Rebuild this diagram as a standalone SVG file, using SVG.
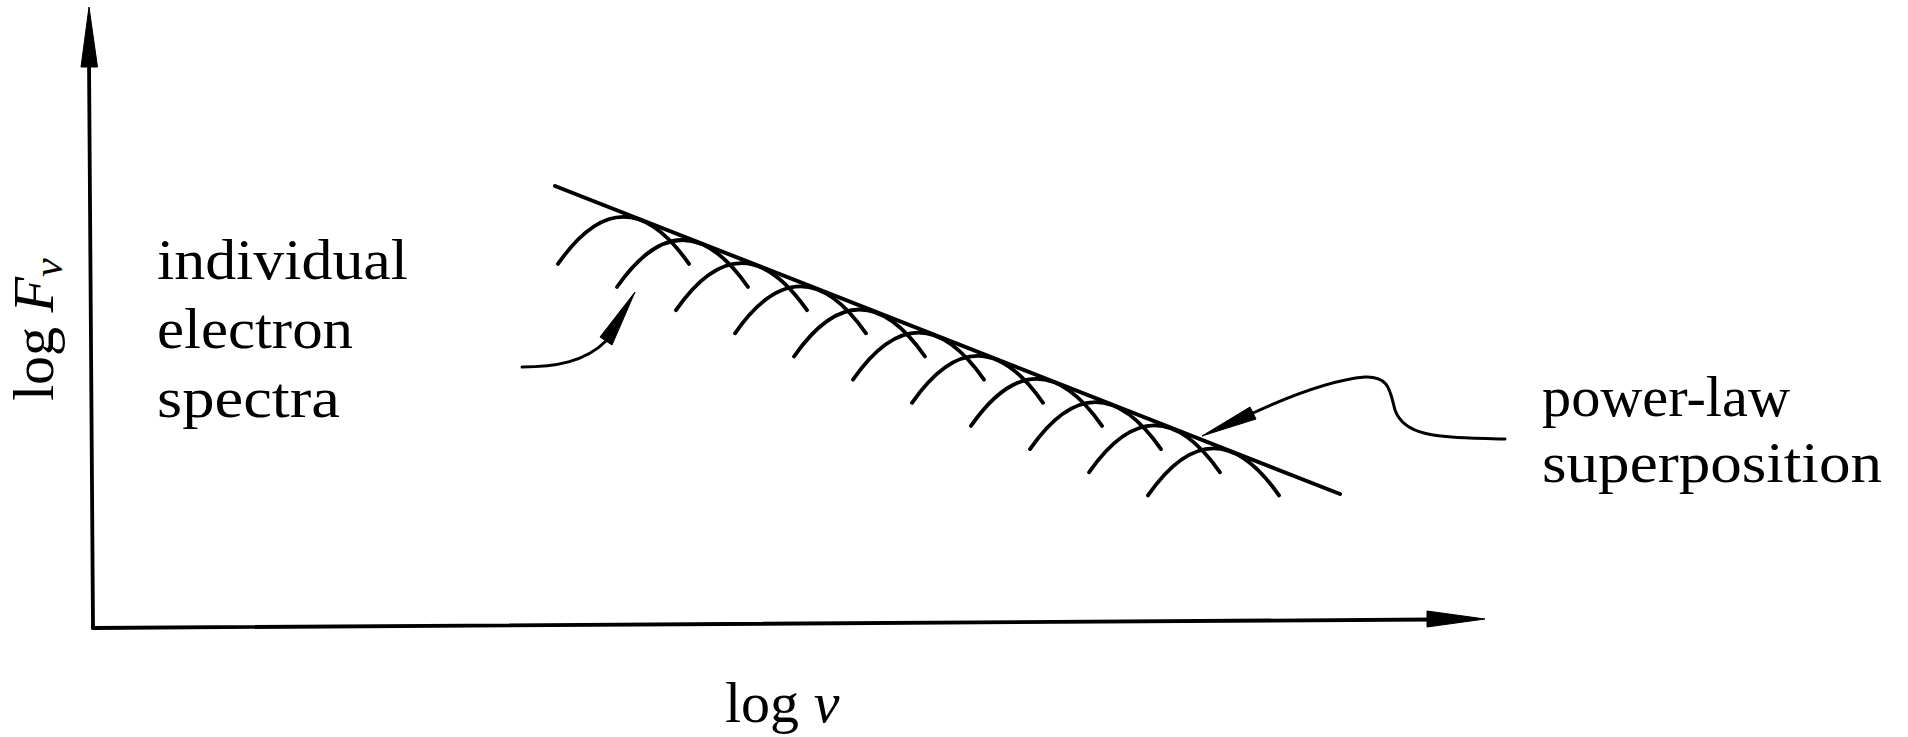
<svg xmlns="http://www.w3.org/2000/svg" xmlns:xlink="http://www.w3.org/1999/xlink" width="1908" height="737" viewBox="0 0 1908 737">
<style>
  .ln { fill: none; stroke: #000; stroke-linecap: round; stroke-linejoin: round; }
  .ax { stroke-width: 3.8; }
  .arc { stroke-width: 3.8; }
  .pl { stroke-width: 4; }
  .ann { stroke-width: 3; }
  .head { fill: #000; stroke: #000; stroke-width: 1; stroke-linejoin: round; }
  .lbl { font-family: "Liberation Serif", "Times New Roman", serif; font-size: 58px; fill: #000; }
</style>
<defs>
  <path id="bump" d="M0,0 Q65.5,-94 131,0"/>
</defs>
<rect width="1908" height="737" fill="#fff"/>

<g id="axes">
  <path class="ln ax" d="M93,628 L89,60"/>
  <polygon class="head" points="89,7 97.5,67 81,67"/>
  <path class="ln ax" d="M93,628 L1432,619.5"/>
  <polygon class="head" points="1485,619 1427,627 1427,611"/>
</g>

<g id="individual-spectra" class="ln arc">
  <use xlink:href="#bump" x="558" y="263.9"/>
  <use xlink:href="#bump" x="617" y="287.0"/>
  <use xlink:href="#bump" x="676" y="310.2"/>
  <use xlink:href="#bump" x="735" y="333.3"/>
  <use xlink:href="#bump" x="794" y="356.5"/>
  <use xlink:href="#bump" x="853" y="379.6"/>
  <use xlink:href="#bump" x="912" y="402.8"/>
  <use xlink:href="#bump" x="971" y="425.9"/>
  <use xlink:href="#bump" x="1030" y="449.1"/>
  <use xlink:href="#bump" x="1089" y="472.3"/>
  <use xlink:href="#bump" x="1148" y="495.4"/>
</g>

<g id="power-law-line">
  <path class="ln pl" d="M555,186 L1340,494"/>
</g>

<g id="connectors">
  <path class="ln ann" d="M522,367 C555,367 585,362 606,341"/>
  <polygon class="head" points="635,292 612,345 600,337"/>
  <path class="ln ann" d="M1505,439 C1440,437 1405,438 1395,410 C1390,392 1390,376 1365,377 C1330,380 1290,396 1253,413"/>
  <polygon class="head" points="1202,436 1256,419 1250,407"/>
</g>

<g id="label-individual">
  <text class="lbl" x="157" y="279" textLength="251" lengthAdjust="spacingAndGlyphs">individual</text>
  <text class="lbl" x="157" y="348" textLength="196" lengthAdjust="spacingAndGlyphs">electron</text>
  <text class="lbl" x="157" y="417" textLength="183" lengthAdjust="spacingAndGlyphs">spectra</text>
</g>

<g id="label-powerlaw">
  <text class="lbl" x="1542" y="416" textLength="248" lengthAdjust="spacingAndGlyphs">power-law</text>
  <text class="lbl" x="1542" y="482" textLength="340" lengthAdjust="spacingAndGlyphs">superposition</text>
</g>

<g id="label-yaxis">
  <text class="lbl" transform="translate(53,401) rotate(-90)">log <tspan font-style="italic">F</tspan><tspan font-style="italic" font-size="42" dy="9">ν</tspan></text>
</g>

<g id="label-xaxis">
  <text class="lbl" x="725" y="722">log <tspan font-style="italic">ν</tspan></text>
</g>
</svg>
